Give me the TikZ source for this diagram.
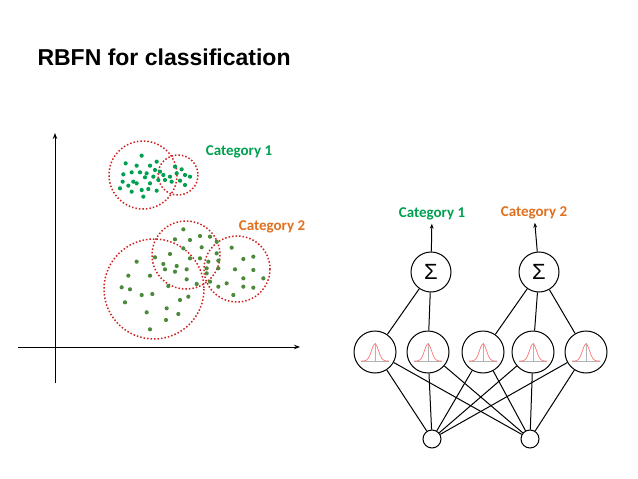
\documentclass[tikz,border=0pt]{standalone}
\usepackage{fontspec}
\setmainfont{Liberation Sans}
\newfontfamily\calib{Carlito}
\usetikzlibrary{arrows.meta}
\definecolor{catA}{HTML}{00A050}
\definecolor{catB}{HTML}{E07020}
\definecolor{dotB}{HTML}{4A8A3A}
\definecolor{ring}{HTML}{D02020}
\tikzset{
  neuron/.style={draw,circle,line width=1pt,minimum size=42pt,inner sep=0pt},
  inp/.style={draw,circle,line width=1pt,minimum size=18pt,inner sep=0pt},
  link/.style={line width=1pt},
  cluster/.style={ring,line width=1.5pt,dotted},
  catlabel/.style={font=\calib\fontsize{15}{17}\selectfont\bfseries},
}
\begin{document}
\begin{tikzpicture}[x=1pt,y=-1pt]
\useasboundingbox (0,0) rectangle (638,479);

% Titel
\node[anchor=west,font=\bfseries\fontsize{23}{26}\selectfont] (title) at (34,57) {RBFN for classification};

% Achsen
\draw[link,-{Stealth[length=6pt]}] (55,383)--(55,133);
\draw[link,-{Stealth[length=6pt]}] (18,347)--(300,347);

% Cluster
\draw[cluster] (143,175) circle (34);
\draw[cluster] (178,175) circle (20);
\draw[cluster] (154,289) circle (50);
\draw[cluster] (186,255) circle (34);
\draw[cluster] (237,269) circle (33);

\foreach \x/\y in {125/47,77/70,110/77,150/77,170/65,95/97,120/97,140/100,165/90,70/103,180/95,68/125,100/125,135/112,160/110,190/105,85/137,110/130,150/130,175/120,60/145,95/155,125/150,145/147,170/152,130/170,210/110,225/80,245/88,230/100,255/105,270/110,215/125,240/122,255/135,195/120}
  \fill[catA] ({\x/3+100},{\y/3+140}) circle (2.1);
\foreach \x/\y in {250/268,225/298,300/288,330/290,270/300,350/305,165/352,110/365,210/342,250/325,305/322,395/323,190/372,230/378,270/355,300/355,350/340,325/365,355/362,430/357,460/350,195/388,225/395,260/388,320/385,355/385,405/388,460/390,490/415,85/407,150/407,260/418,290/432,320/400,330/425,355/440,380/430,430/415,430/440,460/443,400/465,65/442,90/448,125/465,157/462,205/438,75/487,240/480,265/470,140/517,200/505,235/522,198/540,150/568}
  \fill[dotB] ({\x/3+100},{\y/3+140}) circle (2.1);

\node[catlabel,text=catA] (c1) at (239,152) {Category 1};
\node[catlabel,text=catB] (c2) at (272,227) {Category 2};

% Netz
\node[neuron,minimum size=40pt,font=\fontsize{22}{24}\selectfont] (s1) at (431,272) {Σ};
\node[neuron,minimum size=40pt,font=\fontsize{22}{24}\selectfont] (s2) at (539,272) {Σ};
\node[catlabel,text=catA] (o1) at (432,214) {Category 1};
\node[catlabel,text=catB] (o2) at (534,213) {Category 2};
\draw[link,-{Stealth[length=5pt]}] (s1)--(o1);
\draw[link,-{Stealth[length=5pt]}] (s2)--(o2);

\foreach \i/\x in {1/375,2/428,3/483,4/533,5/586}{
  \node[neuron] (g\i) at (\x,352) {};
  \draw[gray!60,line width=0.5pt] (\x-14,361)--(\x+14,361) (\x,361)--(\x,343);
  \draw[red!55,line width=0.7pt,domain=-14:14,samples=40,smooth,variable=\s]
    plot ({\x+\s},{361-17*exp(-(\s*\s)/25)});
}

\node[inp] (x1) at (432,439) {};
\node[inp] (x2) at (530,439) {};

\draw[link] (s1)--(g1) (s1)--(g2) (s2)--(g3) (s2)--(g4) (s2)--(g5);
\foreach \i in {1,...,5}
  \draw[link] (x1)--(g\i) (x2)--(g\i);
\end{tikzpicture}
\end{document}
